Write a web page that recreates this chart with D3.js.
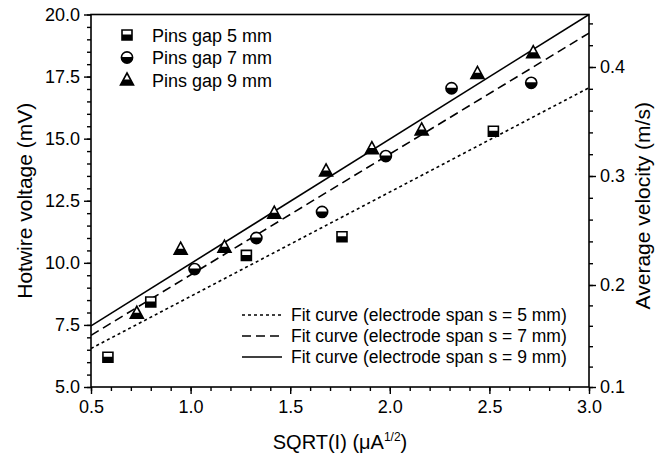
<!DOCTYPE html>
<html>
<head>
<meta charset="utf-8">
<script src="https://cdn.jsdelivr.net/npm/d3@7"></script>
<style>
  body { margin: 0; background: #fff; }
  svg { display: block; }
  text { font-family: Arial, "Liberation Sans", Helvetica, sans-serif; fill: #000; }
</style>
</head>
<body>
<svg id="chart" width="666" height="456"></svg>
<script>
// ---------- data ----------
const gap5X = [0.585, 0.80, 1.28, 1.76, 2.52];
const gap5Y = [6.2, 8.42, 10.3, 11.05, 15.3];
const gap7X = [1.02, 1.33, 1.66, 1.98, 2.31, 2.71];
const gap7Y = [9.75, 11.0, 12.05, 14.3, 17.03, 17.25];
const gap9X = [0.73, 0.95, 1.17, 1.42, 1.68, 1.91, 2.16, 2.44, 2.72];
const gap9Y = [7.97, 10.55, 10.63, 12.0, 13.7, 14.6, 15.35, 17.63, 18.46];
const fitX  = [0.5, 3.0];
const fit5Y = [6.55, 17.05];
const fit7Y = [7.08, 19.25];
const fit9Y = [7.46, 20.0];
const xTicks = [0.5, 1.0, 1.5, 2.0, 2.5, 3.0];
const yTicks = [5.0, 7.5, 10.0, 12.5, 15.0, 17.5, 20.0];
const vTicks = [0.1, 0.2, 0.3, 0.4];
const pointLegend = ["Pins gap 5 mm", "Pins gap 7 mm", "Pins gap 9 mm"];
const fitLegend = ["Fit curve (electrode span s = 5 mm)", "Fit curve (electrode span s = 7 mm)", "Fit curve (electrode span s = 9 mm)"];

// ---------- layout ----------
const L = 91, R = 589, T = 14.5, B = 387;
const svg = d3.select("#chart");
const x = d3.scaleLinear().domain([0.5, 3.0]).range([L, R]);
const y = d3.scaleLinear().domain([5, 20]).range([B, T]);
const v = d3.scaleLinear().domain([0.1, 0.2, 0.3, 0.4]).range([B, 285, 176, 67]);

const axisW = 1.6;
// x axis
const xMinor = d3.range(5, 31).map(d => d / 10);
const gx = svg.append("g").attr("transform", `translate(0,${B})`);
gx.call(d3.axisBottom(x).tickValues(xMinor).tickSize(4).tickFormat(""));
gx.call(g => g.selectAll(".tick line").attr("stroke-width", 1.4));
const gx2 = svg.append("g").attr("transform", `translate(0,${B})`);
gx2.call(d3.axisBottom(x).tickValues(xTicks).tickSize(7).tickPadding(6).tickFormat(d3.format(".1f")));
// left axis
const yMinor = d3.range(10, 41).map(d => d / 2);
const gy = svg.append("g").attr("transform", `translate(${L},0)`);
gy.call(d3.axisLeft(y).tickValues(yMinor).tickSize(4).tickFormat(""));
const gy2 = svg.append("g").attr("transform", `translate(${L},0)`);
gy2.call(d3.axisLeft(y).tickValues(yTicks).tickSize(7).tickPadding(4).tickFormat(d3.format(".1f")));
// right axis
const vMinor = d3.range(5, 23).map(d => d / 50);
const gv = svg.append("g").attr("transform", `translate(${R},0)`);
gv.call(d3.axisRight(v).tickValues(vMinor).tickSize(4).tickFormat(""));
const gv2 = svg.append("g").attr("transform", `translate(${R},0)`);
gv2.call(d3.axisRight(v).tickValues(vTicks).tickSize(7).tickPadding(4).tickFormat(d3.format(".1f")));

svg.selectAll(".domain").remove();
svg.selectAll(".tick line").attr("stroke", "#000").attr("stroke-width", 1.4);
svg.selectAll(".tick text").attr("font-size", 18).attr("fill", "#000")
   .style("font-family", 'Arial, "Liberation Sans", sans-serif');

// frame
svg.append("rect").attr("x", L).attr("y", T).attr("width", R - L).attr("height", B - T)
   .attr("fill", "none").attr("stroke", "#000").attr("stroke-width", axisW);

// axis titles
svg.append("text").attr("transform", `translate(${(L + R) / 2},449)`).attr("text-anchor", "middle")
   .attr("font-size", 20)
   .call(t => { t.append("tspan").text("SQRT(I) (\u03BCA");
                t.append("tspan").attr("font-size", 12).attr("dy", -8).text("1/2");
                t.append("tspan").attr("dy", 8).text(")"); });
svg.append("text").attr("transform", `translate(32,${(T + B) / 2}) rotate(-90)`).attr("text-anchor", "middle")
   .attr("font-size", 21).text("Hotwire voltage (mV)");
svg.append("text").attr("transform", `translate(650,${(T + B) / 2 + 5}) rotate(-90)`).attr("text-anchor", "middle")
   .attr("font-size", 21).text("Average velocity (m/s)");

// fit lines
const dashes = ["3,3", "9,5", null];
const fits = [fit5Y, fit7Y, fit9Y];
const clipG = svg.append("defs");
clipG.append("clipPath").attr("id", "plotClip").append("rect")
   .attr("x", L).attr("y", T).attr("width", R - L).attr("height", B - T);
clipG.append("clipPath").attr("id", "bottomHalf").append("rect")
   .attr("x", -10).attr("y", -0.5).attr("width", 20).attr("height", 12);
const line = d3.line().x(d => x(d[0])).y(d => y(d[1]));
fits.forEach((fy, i) => {
  svg.append("path").attr("clip-path", "url(#plotClip)")
     .attr("d", line(fitX.map((xx, j) => [xx, fy[j]])))
     .attr("fill", "none").attr("stroke", "#000").attr("stroke-width", 1.6)
     .attr("stroke-dasharray", dashes[i]);
});

// markers
const shapes = [
  "M-5,-5H5V5H-5Z",
  d3.symbol(d3.symbolCircle, Math.PI * 5.6 * 5.6)(),
  "M0,-7L6.5,5L-6.5,5Z"
];
function marker(g, k) {
  g.append("path").attr("d", shapes[k]).attr("fill", "#fff").attr("stroke", "#000").attr("stroke-width", 1.6);
  g.append("path").attr("d", shapes[k]).attr("fill", "#000").attr("clip-path", "url(#bottomHalf)");
}
const sets = [[gap5X, gap5Y], [gap7X, gap7Y], [gap9X, gap9Y]];
sets.forEach(([xs, ys], k) => {
  xs.forEach((xx, i) => {
    const g = svg.append("g").attr("transform", `translate(${x(xx)},${y(ys[i])})`);
    marker(g, k);
  });
});

// point legend
pointLegend.forEach((s, i) => {
  const cy = 35 + i * 22.5;
  marker(svg.append("g").attr("transform", `translate(127,${cy})`), i);
  svg.append("text").attr("x", 152).attr("y", cy + 6.5).attr("font-size", 18).text(s);
});
// fit legend
fitLegend.forEach((s, i) => {
  const cy = 315 + i * 21;
  svg.append("line").attr("x1", 242).attr("x2", 282).attr("y1", cy).attr("y2", cy)
     .attr("stroke", "#000").attr("stroke-width", 1.6).attr("stroke-dasharray", dashes[i]);
  svg.append("text").attr("x", 291).attr("y", cy + 6).attr("font-size", 17.5).text(s);
});
</script>
</body>
</html>
